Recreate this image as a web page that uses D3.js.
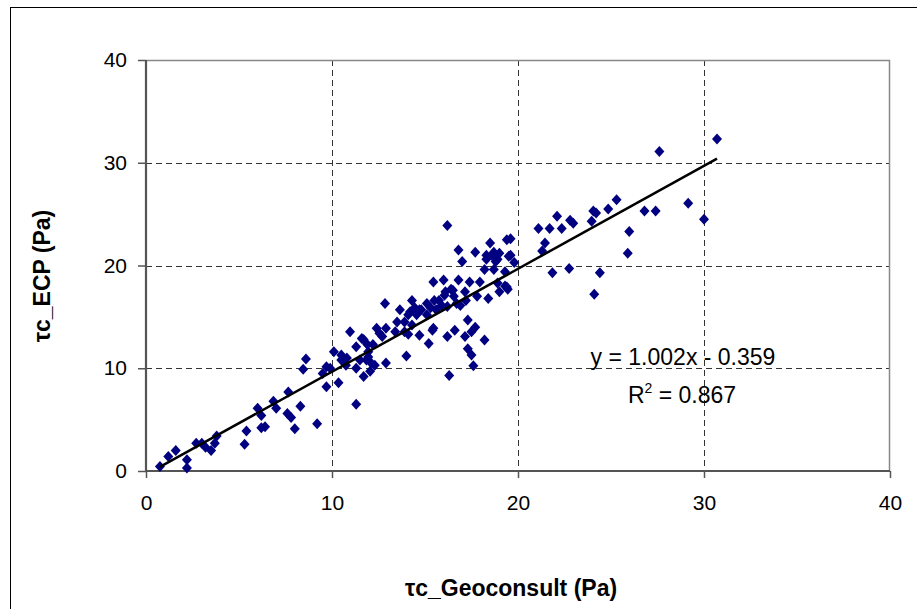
<!DOCTYPE html>
<html>
<head>
<meta charset="utf-8">
<script src="https://cdn.jsdelivr.net/npm/d3@7"></script>
<style>
  html, body { margin: 0; padding: 0; background: #fff; }
  svg { display: block; font-family: "Liberation Sans", Arial, sans-serif; }
</style>
</head>
<body>
<svg id="chart" width="917" height="609"></svg>
<script>
// ---- data ----
const geoconsult = [
  0.75, 1.2, 1.6, 2.2, 2.2, 2.7, 3.0, 3.2, 3.5, 3.7, 3.8, 5.3, 5.4, 6.0, 6.2, 6.2, 6.4, 6.85, 7.0, 7.6, 7.8, 8.0, 8.3, 9.2,
  16.2, 19.4, 18.5, 16.8, 17.7, 18.7, 19.0, 18.3, 17.0, 19.5, 19.8, 18.8, 18.2, 18.7, 19.3,
  15.45, 16.0, 16.8, 17.4, 17.95, 18.9, 19.4, 19.0, 18.4, 17.8, 17.15, 16.5, 16.1, 15.5, 15.1,
  14.3, 14.7, 13.65, 14.1, 14.55, 15.1, 15.6, 16.2, 16.7, 17.2, 12.85, 13.5, 12.4, 12.9, 13.4,
  13.9, 14.3, 15.45, 14.7, 15.2, 16.2, 16.6, 17.15, 17.3, 17.5, 17.7, 18.2, 17.3, 17.5, 17.6,
  16.3, 14.0, 12.9, 10.97, 10.1, 10.5, 10.8, 11.6, 11.3, 11.9, 12.2, 11.5, 11.95, 12.1, 11.3,
  11.7, 12.05, 9.7, 9.5, 10.35, 9.7, 8.6, 8.45, 7.65,
  19.6, 19.6, 18.9, 18.6, 18.3, 16.9, 16.55, 16.4, 16.05, 15.9, 15.75, 15.4, 15.3, 14.8, 14.45,
  14.2, 14.1, 13.9, 12.7, 12.55, 12.3, 11.95, 11.85, 11.7, 11.3, 10.75, 10.5, 9.9, 19.45, 19.3,
  21.1, 21.7, 21.45, 21.3, 22.1, 22.35, 22.8, 22.97, 21.85, 22.75, 23.96, 24.05, 24.2, 24.85, 25.3,
  25.98, 25.9, 24.4, 24.1, 26.8, 27.4, 27.6, 29.15, 30.0, 30.7
];
const ecp = [
  0.45, 1.4, 2.0, 0.3, 1.1, 2.7, 2.7, 2.3, 2.0, 2.7, 3.4, 2.6, 3.9, 6.1, 5.4, 4.2, 4.3, 6.8, 6.1, 5.6, 5.2, 4.1, 6.3, 4.6,
  23.9, 22.5, 22.2, 21.5, 21.3, 21.3, 21.2, 20.6, 20.4, 20.9, 20.3, 20.4, 19.6, 19.6, 19.4,
  18.4, 18.6, 18.6, 18.4, 18.4, 18.3, 17.9, 17.45, 16.8, 17.0, 17.45, 17.6, 17.45, 16.6, 16.3,
  16.6, 15.7, 15.7, 15.2, 15.2, 15.2, 15.7, 16.0, 16.3, 16.6, 16.3, 14.5, 13.9, 13.9, 13.55,
  13.55, 14.2, 13.9, 13.2, 12.4, 13.1, 13.7, 13.1, 14.7, 13.55, 14.0, 12.75, 11.9, 11.3, 10.25,
  9.3, 11.2, 10.5, 13.55, 11.6, 11.3, 11.0, 12.9, 12.1, 12.3, 12.3, 10.8, 11.1, 10.5, 10.0,
  9.2, 9.7, 10.15, 9.5, 8.6, 8.2, 10.9, 9.9, 7.7,
  22.6, 21.0, 20.6, 21.0, 21.0, 16.1, 17.0, 17.7, 17.1, 16.1, 16.6, 13.7, 15.9, 15.7, 15.9,
  15.5, 13.3, 14.5, 13.1, 13.4, 10.3, 11.6, 10.8, 12.8, 6.5, 10.3, 10.8, 10.0, 17.7, 18.0,
  23.6, 23.6, 22.2, 21.4, 24.8, 23.6, 24.4, 24.1, 19.3, 19.7, 24.3, 25.3, 25.1, 25.5, 26.4,
  23.3, 21.2, 19.3, 17.2, 25.3, 25.3, 31.1, 26.05, 24.5, 32.3
];
const xTicks = [0, 10, 20, 30, 40];
const yTicks = [0, 10, 20, 30, 40];
const slope = 1.002, intercept = -0.359;
const fitRange = [0.75, 30.7];
const eqLabel = "y = 1.002x - 0.359";
const r2Value = "0.867";
const xTitle = "τc_Geoconsult (Pa)";
const yTitle = "τc_ECP (Pa)";

// ---- drawing ----
const svg = d3.select("#chart");
const pLeft = 146, pRight = 890, pTop = 60, pBottom = 471;
const x = d3.scaleLinear().domain([0, 40]).range([pLeft, pRight]);
const y = d3.scaleLinear().domain([0, 40]).range([pBottom, pTop]);

// outer frame
svg.append("rect").attr("x", 10.5).attr("y", 7.5).attr("width", 920).attr("height", 620)
  .attr("fill", "none").attr("stroke", "#000").attr("stroke-width", 1);

// grid
const grid = svg.append("g").attr("stroke", "#333").attr("stroke-width", 1).attr("stroke-dasharray", "6,4");
grid.selectAll(".gx").data(xTicks.filter(d => d > 0 && d < 40)).join("line")
  .attr("x1", d => Math.round(x(d)) + 0.5).attr("x2", d => Math.round(x(d)) + 0.5)
  .attr("y1", pTop).attr("y2", pBottom);
grid.selectAll(".gy").data(yTicks.filter(d => d > 0 && d < 40)).join("line")
  .attr("y1", d => Math.round(y(d)) + 0.5).attr("y2", d => Math.round(y(d)) + 0.5)
  .attr("x1", pLeft).attr("x2", pRight);

// plot border (top/right)
svg.append("path").attr("d", `M${pLeft},${pTop + 0.5}H${pRight - 0.5}V${pBottom}`)
  .attr("fill", "none").attr("stroke", "#888").attr("stroke-width", 1.5);

// axes
const xAxis = d3.axisBottom(x).tickValues(xTicks).tickSize(7).tickPadding(17).tickFormat(d3.format("d"));
const yAxis = d3.axisLeft(y).tickValues(yTicks).tickSize(8).tickPadding(11).tickFormat(d3.format("d"));
const gx = svg.append("g").attr("transform", `translate(0,${pBottom})`).call(xAxis);
const gy = svg.append("g").attr("transform", `translate(${pLeft},0)`).call(yAxis);
[gx, gy].forEach(g => {
  g.select(".domain").attr("stroke", "#555").attr("stroke-width", 2.2);
  g.selectAll(".tick line").attr("stroke", "#555").attr("stroke-width", 1.5);
  g.selectAll(".tick text").attr("fill", "#000").style("font-size", "21px")
    .style("font-family", "'Liberation Sans', Arial, sans-serif");
});
gx.select(".domain").attr("d", `M${pLeft},0H${pRight}`);
gy.select(".domain").attr("d", `M0,${pTop}V${pBottom}`);

// points
const diamond = "M0,-5.5L5,0L0,5.5L-5,0Z";
svg.append("g").selectAll("path").data(geoconsult.map((g, i) => [g, ecp[i]])).join("path")
  .attr("d", diamond)
  .attr("transform", d => `translate(${x(d[0])},${y(d[1])})`)
  .attr("fill", "#000080");

// trend line
svg.append("line")
  .attr("x1", x(fitRange[0])).attr("y1", y(slope * fitRange[0] + intercept))
  .attr("x2", x(fitRange[1])).attr("y2", y(slope * fitRange[1] + intercept))
  .attr("stroke", "#000").attr("stroke-width", 2.5);

// equation
svg.append("text").attr("x", 683).attr("y", 365).attr("text-anchor", "middle")
  .style("font-size", "23px").text(eqLabel);
const r2 = svg.append("text").attr("x", 682).attr("y", 403).attr("text-anchor", "middle")
  .style("font-size", "23px");
r2.append("tspan").text("R");
r2.append("tspan").attr("dy", -10).style("font-size", "14px").text("2");
r2.append("tspan").attr("dy", 10).text(" = " + r2Value);

// axis titles
svg.append("text").attr("x", 511).attr("y", 596).attr("text-anchor", "middle")
  .style("font-size", "23px").style("font-weight", "bold").text(xTitle);
svg.append("text").attr("transform", "translate(50,276) rotate(-90)").attr("text-anchor", "middle")
  .style("font-size", "23px").style("font-weight", "bold").text(yTitle);
</script>
</body>
</html>
